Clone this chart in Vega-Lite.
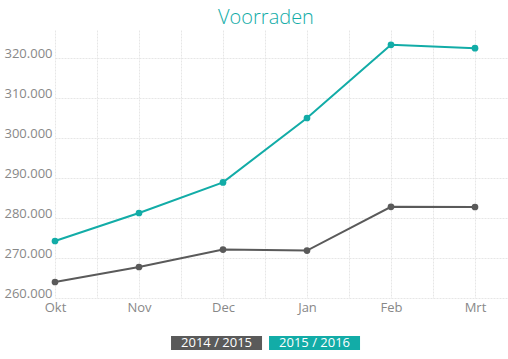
{
  "$schema": "https://vega.github.io/schema/vega-lite/v6.json",
  "padding": {"left": 3, "top": 8, "right": 0, "bottom": 0},
  "config": {"view": {"stroke": null}, "font": "Open Sans"},
  "title": {"text": "Voorraden", "color": "#12aca7", "fontSize": 20, "fontWeight": "lighter", "anchor": "middle", "dx": 10, "offset": 2},
  "data": {"values": [
    {"maand": "Okt", "idx": 0, "serie": "2014 / 2015", "waarde": 264000},
    {"maand": "Nov", "idx": 1, "serie": "2014 / 2015", "waarde": 267750},
    {"maand": "Dec", "idx": 2, "serie": "2014 / 2015", "waarde": 272100},
    {"maand": "Jan", "idx": 3, "serie": "2014 / 2015", "waarde": 271850},
    {"maand": "Feb", "idx": 4, "serie": "2014 / 2015", "waarde": 282800},
    {"maand": "Mrt", "idx": 5, "serie": "2014 / 2015", "waarde": 282750},
    {"maand": "Okt", "idx": 0, "serie": "2015 / 2016", "waarde": 274250},
    {"maand": "Nov", "idx": 1, "serie": "2015 / 2016", "waarde": 281250},
    {"maand": "Dec", "idx": 2, "serie": "2015 / 2016", "waarde": 288900},
    {"maand": "Jan", "idx": 3, "serie": "2015 / 2016", "waarde": 305000},
    {"maand": "Feb", "idx": 4, "serie": "2015 / 2016", "waarde": 323300},
    {"maand": "Mrt", "idx": 5, "serie": "2015 / 2016", "waarde": 322450}
  ]},
  "spacing": 22,
  "vconcat": [
    {
      "width": 453,
      "height": 268,
      "encoding": {
        "x": {"field": "idx", "type": "quantitative", "title": null,
          "scale": {"domain": [0, 5.393], "nice": false, "zero": false},
          "axis": {"values": [0, 0.5, 1, 1.5, 2, 2.5, 3, 3.5, 4, 4.5, 5],
            "labelExpr": "datum.value % 1 == 0 ? ['Okt','Nov','Dec','Jan','Feb','Mrt'][datum.value] : ''",
            "ticks": false, "domain": false, "labelPadding": 3, "labelFontSize": 13, "labelColor": "#888888",
            "gridColor": "#e6e6e6", "gridDash": [2, 1], "labelFlush": false}},
        "y": {"field": "waarde", "type": "quantitative", "title": null,
          "scale": {"domain": [260000, 327000], "nice": false, "zero": false},
          "axis": {"values": [260000, 270000, 280000, 290000, 300000, 310000, 320000],
            "labelExpr": "replace(format(datum.value, ','), ',', '.')",
            "ticks": false, "domain": false, "labelPadding": 3, "labelFontSize": 13, "labelColor": "#888888",
            "labelBaseline": "alphabetic", "labelOffset": -1, "gridColor": "#e6e6e6", "gridDash": [2, 1]}},
        "color": {"field": "serie", "type": "nominal", "legend": null,
          "scale": {"domain": ["2014 / 2015", "2015 / 2016"], "range": ["#5a5a5a", "#12aca7"]}}
      },
      "layer": [
        {"mark": {"type": "line", "strokeWidth": 2}},
        {"mark": {"type": "point", "filled": true, "size": 45, "opacity": 1}}
      ]
    },
    {
      "width": 385,
      "height": 14,
      "transform": [{"filter": "datum.idx == 0"}],
      "encoding": {
        "x": {"field": "serie", "type": "nominal", "title": null, "axis": null,
          "scale": {"type": "band", "paddingInner": 0.0714, "paddingOuter": 1, "align": 0.592}}
      },
      "layer": [
        {"mark": {"type": "rect"},
         "encoding": {"color": {"field": "serie", "type": "nominal", "legend": null,
           "scale": {"domain": ["2014 / 2015", "2015 / 2016"], "range": ["#5a5a5a", "#12aca7"]}}}},
        {"mark": {"type": "text", "color": "white", "fontSize": 13, "baseline": "middle"},
         "encoding": {"text": {"field": "serie"}}}
      ]
    }
  ]
}
